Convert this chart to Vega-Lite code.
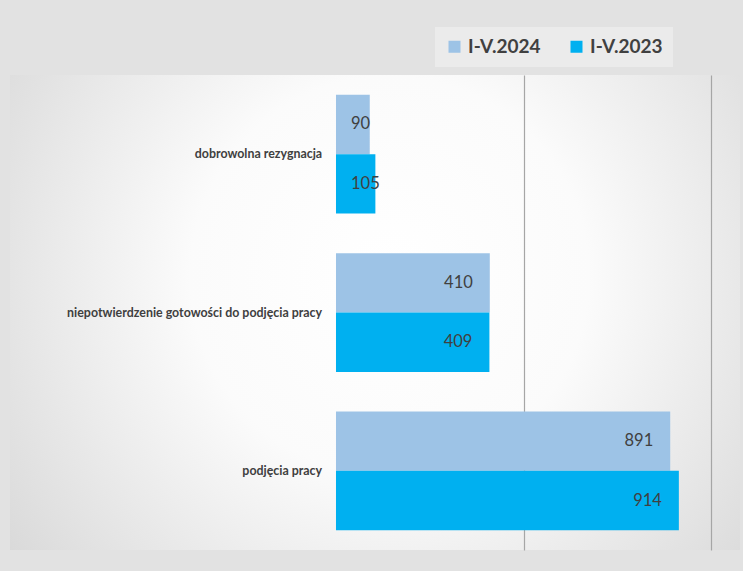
{
  "$schema": "https://vega.github.io/schema/vega-lite/v6.json",
  "width": 730,
  "height": 475,
  "autosize": "none",
  "padding": {"left": 10, "top": 75, "right": 3, "bottom": 21},
  "background": "#e2e2e2",
  "view": {
    "stroke": null,
    "fill": {
      "gradient": "radial",
      "x1": 0.52, "y1": 0.45, "r1": 0,
      "x2": 0.52, "y2": 0.45, "r2": 0.78,
      "stops": [
        {"offset": 0, "color": "#ffffff"},
        {"offset": 0.35, "color": "#fbfbfb"},
        {"offset": 1, "color": "#cdcdcd"}
      ]
    }
  },
  "config": {
    "font": "Lato",
    "text": {"font": "Lato", "color": "#404040"}
  },
  "data": {
    "values": [
      {"cat": "dobrowolna rezygnacja", "series": "I-V.2024", "value": 90},
      {"cat": "dobrowolna rezygnacja", "series": "I-V.2023", "value": 105},
      {"cat": "niepotwierdzenie gotowości do podjęcia pracy", "series": "I-V.2024", "value": 410},
      {"cat": "niepotwierdzenie gotowości do podjęcia pracy", "series": "I-V.2023", "value": 409},
      {"cat": "podjęcia pracy", "series": "I-V.2024", "value": 891},
      {"cat": "podjęcia pracy", "series": "I-V.2023", "value": 914}
    ]
  },
  "encoding": {
    "y": {
      "field": "cat",
      "type": "nominal",
      "sort": ["dobrowolna rezygnacja", "niepotwierdzenie gotowości do podjęcia pracy", "podjęcia pracy"],
      "axis": null,
      "scale": {"paddingInner": 0.25, "paddingOuter": 0.125}
    }
  },
  "layer": [
    {
      "mark": {"type": "bar"},
      "encoding": {
        "x": {
          "field": "value",
          "type": "quantitative",
          "scale": {"domain": [-869, 1077], "nice": false, "zero": false},
          "axis": {
            "values": [500, 1000],
            "grid": true,
            "labels": false,
            "ticks": false,
            "domain": false,
            "title": null,
            "gridColor": "#a6a6a6",
            "gridWidth": 1.2
          }
        },
        "yOffset": {
          "field": "series",
          "sort": ["I-V.2024", "I-V.2023"],
          "scale": {"paddingInner": 0, "paddingOuter": 0}
        },
        "color": {
          "field": "series",
          "type": "nominal",
          "sort": ["I-V.2024", "I-V.2023"],
          "scale": {"domain": ["I-V.2024", "I-V.2023"], "range": ["#9DC3E6", "#00B0F0"]},
          "legend": {
            "orient": "none",
            "legendX": 425,
            "legendY": -48,
            "direction": "horizontal",
            "title": null,
            "symbolType": "square",
            "symbolSize": 144,
            "symbolStrokeWidth": 0,
            "symbolOpacity": 1,
            "labelFont": "Lato",
            "labelFontSize": 19,
            "labelFontWeight": "bold",
            "labelColor": "#404040",
            "labelOffset": 4,
            "columnPadding": 26,
            "fillColor": "#ebebeb",
            "padding": 10
          }
        }
      }
    },
    {
      "transform": [{"filter": "datum.value >= 200"}],
      "mark": {"type": "text", "align": "right", "baseline": "middle", "dx": -17, "fontSize": 16.5},
      "encoding": {
        "x": {"field": "value", "type": "quantitative"},
        "yOffset": {"field": "series", "sort": ["I-V.2024", "I-V.2023"]},
        "text": {"field": "value", "type": "quantitative"}
      }
    },
    {
      "transform": [{"filter": "datum.value < 200"}],
      "mark": {"type": "text", "align": "left", "baseline": "middle", "dx": 15, "fontSize": 16.5},
      "encoding": {
        "x": {"datum": 0},
        "yOffset": {"field": "series", "sort": ["I-V.2024", "I-V.2023"]},
        "text": {"field": "value", "type": "quantitative"}
      }
    },
    {
      "transform": [{"filter": "datum.series == 'I-V.2024'"}],
      "mark": {"type": "text", "align": "right", "baseline": "middle", "fontSize": 12.4, "fontWeight": "bold"},
      "encoding": {
        "x": {"datum": -37},
        "text": {"field": "cat", "type": "nominal"}
      }
    },
    {
      "mark": {"type": "rule", "color": "#404040", "strokeWidth": 3.5},
      "encoding": {"x": {"datum": 0}}
    }
  ]
}
